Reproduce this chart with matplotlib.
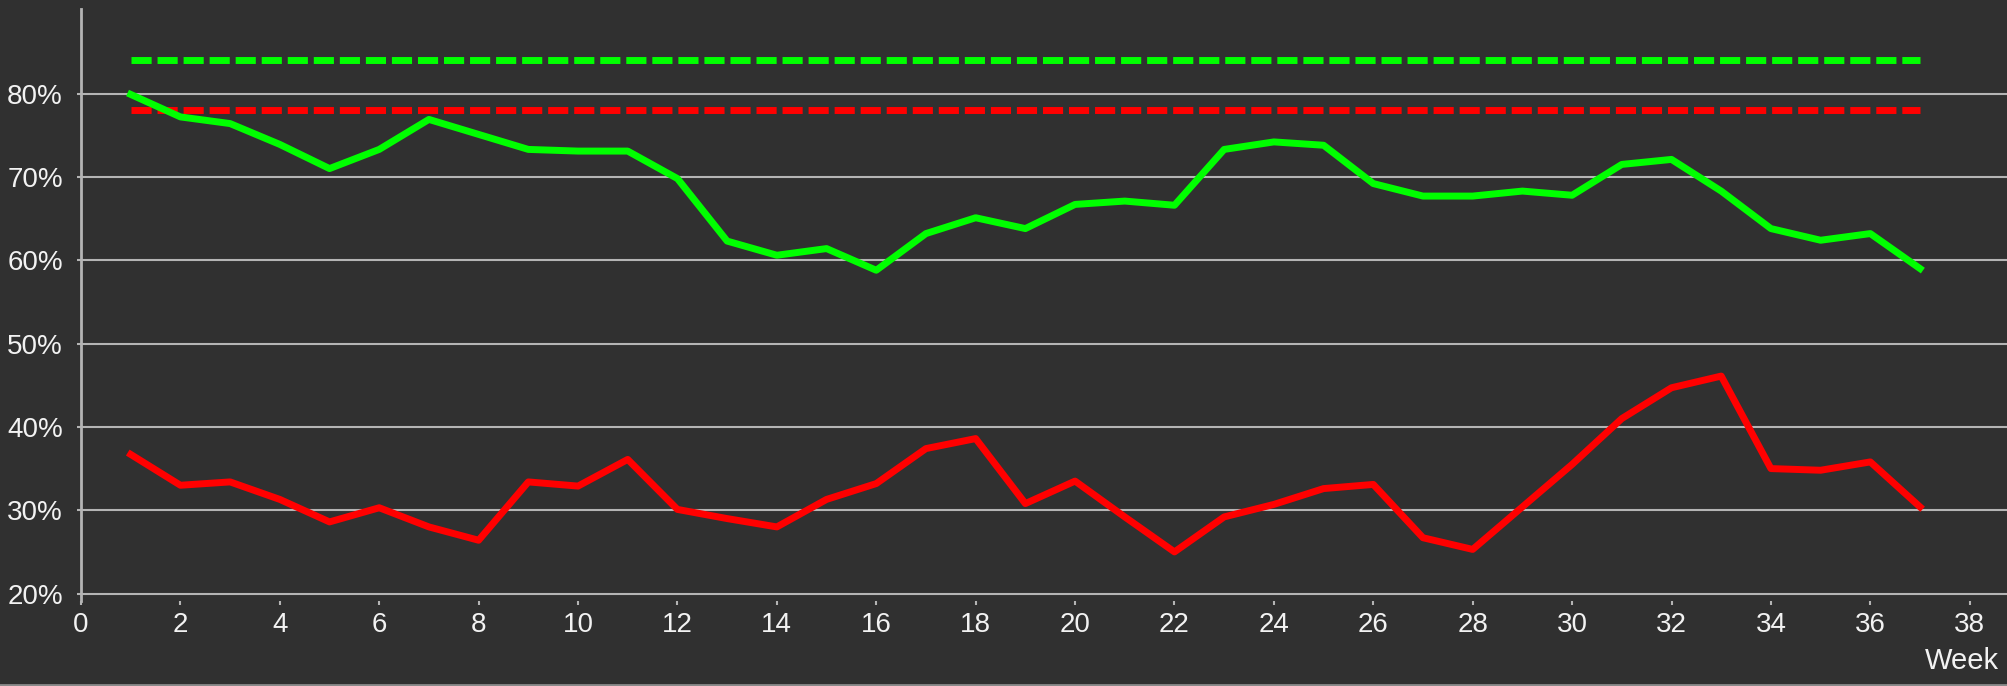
import matplotlib.pyplot as plt
from matplotlib.lines import Line2D

weeks = list(range(1, 38))
green_values = [79.9, 77.2, 76.4, 73.9, 71.0, 73.3, 76.9, 75.1, 73.3, 73.1,
                73.1, 69.8, 62.3, 60.6, 61.4, 58.8, 63.2, 65.1, 63.8, 66.7,
                67.1, 66.6, 73.3, 74.2, 73.8, 69.2, 67.7, 67.7, 68.3, 67.8,
                71.5, 72.1, 68.3, 63.8, 62.4, 63.2, 59.0]
red_values = [36.7, 33.0, 33.4, 31.3, 28.6, 30.3, 28.0, 26.4, 33.4, 32.9,
              36.1, 30.1, 29.0, 28.0, 31.3, 33.2, 37.4, 38.6, 30.8, 33.5,
              29.2, 25.0, 29.2, 30.7, 32.6, 33.1, 26.7, 25.3, 30.4, 35.5,
              41.0, 44.7, 46.1, 35.0, 34.8, 35.8, 30.4]
green_target = 84
red_target = 78
y_ticks = [20, 30, 40, 50, 60, 70, 80]
x_ticks = list(range(0, 40, 2))

bg = "#303030"
grid_col = "#b4b4b4"
text_col = "#f2f2f2"
plt.rcParams["font.family"] = ["Liberation Sans", "DejaVu Sans"]

W, H = 2007, 686
fig = plt.figure(figsize=(W / 100, H / 100), dpi=100, facecolor=bg)
ax = fig.add_axes([81 / W, 1 - 601 / H, (W - 81) / W, (601 - 9) / H])
ax.set_facecolor(bg)

lw = 5.0
ax.plot([weeks[0], weeks[-1]], [green_target] * 2, color="#00ff00", lw=lw,
        dashes=(2.9, 0.85), dash_capstyle="butt", zorder=3)
ax.plot([weeks[0], weeks[-1]], [red_target] * 2, color="#ff0000", lw=lw,
        dashes=(2.9, 0.85), dash_capstyle="butt", zorder=3)
ax.plot(weeks, green_values, color="#00ff00", lw=lw, zorder=4)
ax.plot(weeks, red_values, color="#ff0000", lw=lw, zorder=4)

ax.set_xlim(0, 38.75)
ax.set_ylim(19.11, 90.15)
ax.set_yticks(y_ticks)
ax.set_yticklabels([f"{v}%" for v in y_ticks])
ax.set_xticks(x_ticks)
ax.set_xticklabels([str(v) for v in x_ticks])
ax.grid(axis="y", color=grid_col, lw=1.5, zorder=1)
ax.set_axisbelow(True)

for side in ["top", "right", "bottom"]:
    ax.spines[side].set_visible(False)
ax.spines["left"].set_color(grid_col)
ax.spines["left"].set_linewidth(2)

ax.tick_params(axis="y", colors=grid_col, labelcolor=text_col, labelsize=20,
               length=2.6, width=1.5, pad=10.5)
ax.tick_params(axis="x", colors=grid_col, labelcolor=text_col, labelsize=20,
               length=3, width=1.5, pad=5)

fig.text(1999 / W, 1 - 661 / H, "Week", color=text_col, fontsize=21,
         ha="right", va="center")
fig.add_artist(Line2D([0, 1], [0.002, 0.002], transform=fig.transFigure,
                      color="#8a8a8a", lw=2))

fig.savefig("out.png", dpi=100, facecolor=bg)
